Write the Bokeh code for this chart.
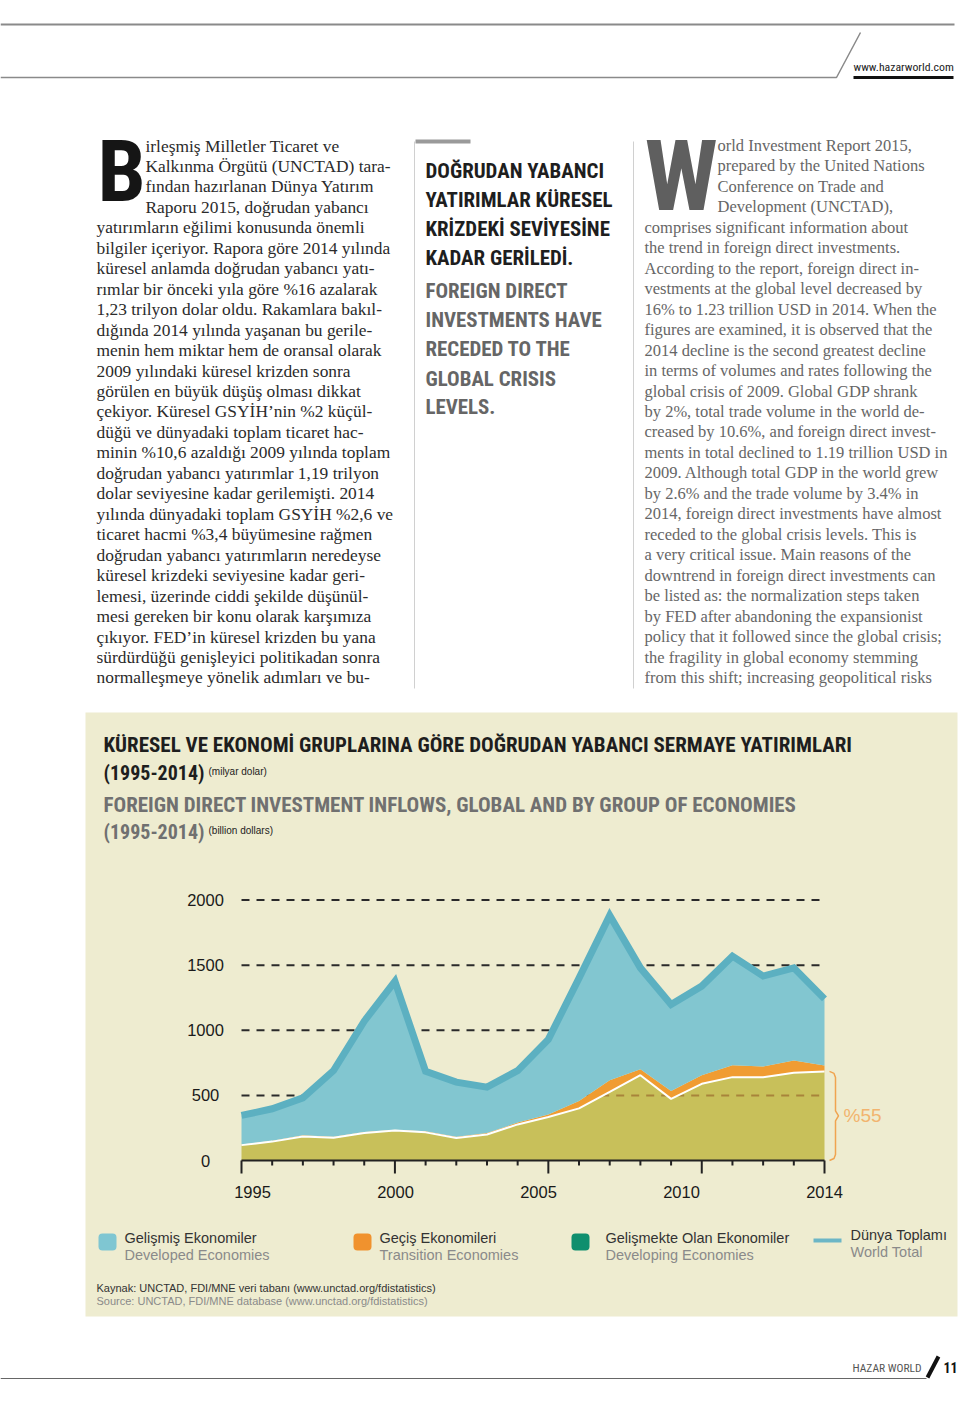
import numpy as np
from bokeh.plotting import figure
from bokeh.models import Range1d
from bokeh.core.properties import value
from bokeh.embed import file_html
from bokeh.resources import INLINE

# ---------------- data (billion USD) ----------------
years = list(range(1995, 2015))
developing = [118, 145, 184, 174, 211, 230, 216, 172, 200, 277, 334, 400, 527, 655, 473, 589, 640, 640, 673, 684]
transition = [4, 6, 10, 8, 8, 7, 8, 10, 12, 14, 20, 56, 90, 45, 60, 66, 92, 82, 95, 45]
world_total = [346, 397, 481, 691, 1070, 1375, 685, 602, 563, 690, 930, 1400, 1882, 1479, 1198, 1339, 1569, 1416, 1479, 1241]
y_ticks = [0, 500, 1000, 1500, 2000]
x_tick_labels = ["1995", "2000", "2005", "2010", "2014"]
share_label = "%55"

legend_tr = ["Gelişmiş Ekonomiler", "Geçiş Ekonomileri", "Gelişmekte Olan Ekonomiler", "Dünya Toplamı"]
legend_en = ["Developed Economies", "Transition Economies", "Developing Economies", "World Total"]

title_tr = "KÜRESEL VE EKONOMİ GRUPLARINA GÖRE DOĞRUDAN YABANCI SERMAYE YATIRIMLARI"
title_en = "FOREIGN DIRECT INVESTMENT INFLOWS, GLOBAL AND BY GROUP OF ECONOMIES"
period = "(1995-2014)"
unit_tr = "(milyar dolar)"
unit_en = "(billion dollars)"
source_tr = "Kaynak: UNCTAD, FDI/MNE veri tabanı (www.unctad.org/fdistatistics)"
source_en = "Source: UNCTAD, FDI/MNE database (www.unctad.org/fdistatistics)"

left_col = [
    "irleşmiş Milletler Ticaret ve",
    "Kalkınma Örgütü (UNCTAD) tara-",
    "fından hazırlanan Dünya Yatırım",
    "Raporu 2015, doğrudan yabancı",
    "yatırımların eğilimi konusunda önemli",
    "bilgiler içeriyor. Rapora göre 2014 yılında",
    "küresel anlamda doğrudan yabancı yatı-",
    "rımlar bir önceki yıla göre %16 azalarak",
    "1,23 trilyon dolar oldu. Rakamlara bakıl-",
    "dığında 2014 yılında yaşanan bu gerile-",
    "menin hem miktar hem de oransal olarak",
    "2009 yılındaki küresel krizden sonra",
    "görülen en büyük düşüş olması dikkat",
    "çekiyor. Küresel GSYİH’nin %2 küçül-",
    "düğü ve dünyadaki toplam ticaret hac-",
    "minin %10,6 azaldığı 2009 yılında toplam",
    "doğrudan yabancı yatırımlar 1,19 trilyon",
    "dolar seviyesine kadar gerilemişti. 2014",
    "yılında dünyadaki toplam GSYİH %2,6 ve",
    "ticaret hacmi %3,4 büyümesine rağmen",
    "doğrudan yabancı yatırımların neredeyse",
    "küresel krizdeki seviyesine kadar geri-",
    "lemesi, üzerinde ciddi şekilde düşünül-",
    "mesi gereken bir konu olarak karşımıza",
    "çıkıyor. FED’in küresel krizden bu yana",
    "sürdürdüğü genişleyici politikadan sonra",
    "normalleşmeye yönelik adımları ve bu-",
]
right_col = [
    "orld Investment Report 2015,",
    "prepared by the United Nations",
    "Conference on Trade and",
    "Development (UNCTAD),",
    "comprises significant information about",
    "the trend in foreign direct investments.",
    "According to the report, foreign direct in-",
    "vestments at the global level decreased by",
    "16% to 1.23 trillion USD in 2014. When the",
    "figures are examined, it is observed that the",
    "2014 decline is the second greatest decline",
    "in terms of volumes and rates following the",
    "global crisis of 2009. Global GDP shrank",
    "by 2%, total trade volume in the world de-",
    "creased by 10.6%, and foreign direct invest-",
    "ments in total declined to 1.19 trillion USD in",
    "2009. Although total GDP in the world grew",
    "by 2.6% and the trade volume by 3.4% in",
    "2014, foreign direct investments have almost",
    "receded to the global crisis levels. This is",
    "a very critical issue. Main reasons of the",
    "downtrend in foreign direct investments can",
    "be listed as: the normalization steps taken",
    "by FED after abandoning the expansionist",
    "policy that it followed since the global crisis;",
    "the fragility in global economy stemming",
    "from this shift; increasing geopolitical risks",
]
head_tr = ["DOĞRUDAN YABANCI", "YATIRIMLAR KÜRESEL", "KRİZDEKİ SEVİYESİNE", "KADAR GERİLEDİ."]
head_en = ["FOREIGN DIRECT", "INVESTMENTS HAVE", "RECEDED TO THE", "GLOBAL CRISIS", "LEVELS."]

# ---------------- layout ----------------
W, H = 960, 1414
X_FIRST, X_LAST = 241.0, 824.0   # page x of first / last year
Y_ZERO, Y_TOP = 1160.0, 899.5    # page y of 0 and of 2000

yr_per_px = (years[-1] - years[0]) / (X_LAST - X_FIRST)
val_per_px = y_ticks[-1] / (Y_ZERO - Y_TOP)

p = figure(width=W, height=H, x_range=Range1d(0, W), y_range=Range1d(H, 0),
           x_axis_type=None, y_axis_type=None, min_border=0, toolbar_location=None,
           output_backend="svg", outline_line_color=None,
           background_fill_color="white", border_fill_color="white")
p.extra_x_ranges = {"yr": Range1d(years[0] - X_FIRST * yr_per_px,
                                  years[0] + (W - X_FIRST) * yr_per_px)}
p.extra_y_ranges = {"val": Range1d(-(H - Y_ZERO) * val_per_px, Y_ZERO * val_per_px)}

SERIF = "Liberation Serif"
SANS = "Liberation Sans"
COND = "Roboto Condensed"


def txt(x, y, text, size, color, font=SANS, style="normal", align="left",
        baseline="middle", xr="default", yr="default"):
    p.text(x=x, y=y, text=text, text_font=value(font), text_font_size=f"{size}px",
           text_color=color, text_font_style=style, text_align=align,
           text_baseline=baseline, x_range_name=xr, y_range_name=yr)


# ---------------- header ----------------
p.line([0, 954], [24, 24], line_color="#8a8a8a", line_width=2)
p.line([0, 836, 860], [77, 77, 32], line_color="#8a8a8a", line_width=1.5)
p.line([853, 953], [77, 77], line_color="#111111", line_width=3)
txt([853], [66], ["www.hazarworld.com"], 11.8, "#222222", font=COND)

# ---------------- body columns ----------------
LH = 20.46
txt([97], [171], ["B"], 86, "#151515", font=COND, style="bold")
txt([145] * 4 + [96] * (len(left_col) - 4), [145 + i * LH for i in range(len(left_col))],
    left_col, 17.4, "#2b2b2b", font=SERIF)

p.line([414, 414], [141, 688], line_color="#d0d0d0", line_width=1)
p.line([633, 633], [141, 688], line_color="#d0d0d0", line_width=1)
p.line([415, 470], [141, 141], line_color="#9a9a9a", line_width=4)
txt([425] * 4, [170, 199.5, 228, 257], head_tr, 20.9, "#1e1e1e", font=COND, style="bold")
txt([425] * 5, [290, 319.5, 348.5, 378, 406.5], head_en, 20.9, "#666666", font=COND, style="bold")

txt([644], [176], ["W"], 98, "#5f5f5f", font=COND, style="bold")
txt([717] * 4 + [644] * (len(right_col) - 4), [145 + i * LH for i in range(len(right_col))],
    right_col, 16.5, "#666666", font=SERIF)

# ---------------- chart panel ----------------
p.quad(left=85, right=957, top=712, bottom=1316, fill_color="#eeecd0", line_color=None)
txt([103], [744], [title_tr], 21, "#1e1e1e", font=COND, style="bold")
txt([103], [772], [period], 20, "#1e1e1e", font=COND, style="bold")
txt([208], [771], [unit_tr], 10, "#222222")
txt([103], [804], [title_en], 21, "#707070", font=COND, style="bold")
txt([103], [831], [period], 20, "#707070", font=COND, style="bold")
txt([208], [830], [unit_en], 10, "#222222")

dev = np.array(developing, float)
tra = np.array(transition, float)
wld = np.array(world_total, float)
top_tr = dev + tra
CH = dict(x_range_name="yr", y_range_name="val")

# dashed gridlines (under the areas)
p.segment(x0=[years[0]] * (len(y_ticks) - 1), x1=[years[-1]] * (len(y_ticks) - 1),
          y0=y_ticks[1:], y1=y_ticks[1:], line_color="#2a2a2a", line_width=2,
          line_dash="8 7", **CH)
# developing economies
p.varea(x=years, y1=np.zeros(len(years)), y2=dev, fill_color="#c8c05a", **CH)
# gridline visible through the developing-economies area
for lvl in y_ticks[1:]:
    above = np.where(dev > lvl)[0]
    if len(above) and above[0] > 0:
        i = above[0]
        xs = years[i - 1] + (lvl - dev[i - 1]) / (dev[i] - dev[i - 1])
        off = int(round((xs - years[0]) / yr_per_px)) % 15
        p.segment(x0=[xs], x1=[years[-1]], y0=[lvl], y1=[lvl], line_color="#a8843a",
                  line_width=2, line_dash="8 7", line_dash_offset=off, **CH)
# transition economies
p.varea(x=years, y1=dev, y2=top_tr, fill_color="#f09c32", **CH)
# developed economies
p.varea(x=years, y1=top_tr, y2=wld, fill_color="#82c6d0", **CH)
p.line(x=years, y=dev, line_color="white", line_width=2, **CH)
# world total
p.line(x=years, y=wld, line_color="#5cb0c1", line_width=7, line_join="miter", **CH)

# x axis
p.segment(x0=[years[0]], x1=[years[-1]], y0=[0], y1=[0], line_color="#222222", line_width=2, **CH)
major = [int(s) for s in x_tick_labels]
minor = [y for y in years if y not in major]
p.segment(x0=minor, x1=minor, y0=[0] * len(minor), y1=[-5 * val_per_px] * len(minor),
          line_color="#222222", line_width=2, **CH)
p.segment(x0=major, x1=major, y0=[0] * len(major), y1=[-13 * val_per_px] * len(major),
          line_color="#222222", line_width=2, **CH)
# tick labels spaced evenly, as in the reference
lab_x = list(np.linspace(years[0] + 11 * yr_per_px, years[-1], len(x_tick_labels)))
txt(lab_x, [1191] * len(x_tick_labels), x_tick_labels, 16.5, "#1a1a1a", align="center", xr="yr")
txt([205] * len(y_ticks), y_ticks, [str(v) for v in y_ticks], 16.5, "#1a1a1a", align="center", yr="val")

# brace with share of developing economies in 2014
top = dev[-1]
bx = years[-1] + 11 * yr_per_px
bxs = [bx + d * yr_per_px for d in [-6, -1.5, 0, 0, 3, 0, 0, -1.5, -6]]
mid = top / 2
bys = [top, top - 2 * val_per_px, top - 6 * val_per_px, mid + 5 * val_per_px, mid,
       mid - 5 * val_per_px, 6 * val_per_px, 2 * val_per_px, 0]
p.line(x=bxs, y=bys, line_color="#f0a450", line_width=1.5, **CH)
txt([bx + 8 * yr_per_px], [mid], [share_label], 19, "#f2b46e", xr="yr", yr="val")

# legend
sw_colors = ["#7fc6d2", "#f0922e", "#0f8f6e"]
for xl, c in zip([98, 353, 571], sw_colors):
    p.quad(left=xl, right=xl + 18, top=1233, bottom=1250, fill_color=c, line_color=None,
           border_radius=4)
p.line([813, 841], [1240, 1240], line_color="#6cb6c6", line_width=4)
txt([124, 379, 605, 850], [1237, 1237, 1237, 1234], legend_tr, 14.5, "#333333")
txt([124, 379, 605, 850], [1254, 1254, 1254, 1251], legend_en, 14.5, "#8a8a8a")
txt([96], [1287], [source_tr], 11, "#333333")
txt([96], [1300], [source_en], 11, "#8a8a8a")

# footer
p.line([0, 926], [1378, 1378], line_color="#666666", line_width=1)
txt([852], [1367], ["HAZAR WORLD"], 11.5, "#555555", font=COND)
p.line([927, 938], [1377, 1356], line_color="#111111", line_width=4)
txt([943], [1367], ["11"], 14, "#111111", font=COND, style="bold")

open("out.html", "w").write(file_html(p, INLINE))
